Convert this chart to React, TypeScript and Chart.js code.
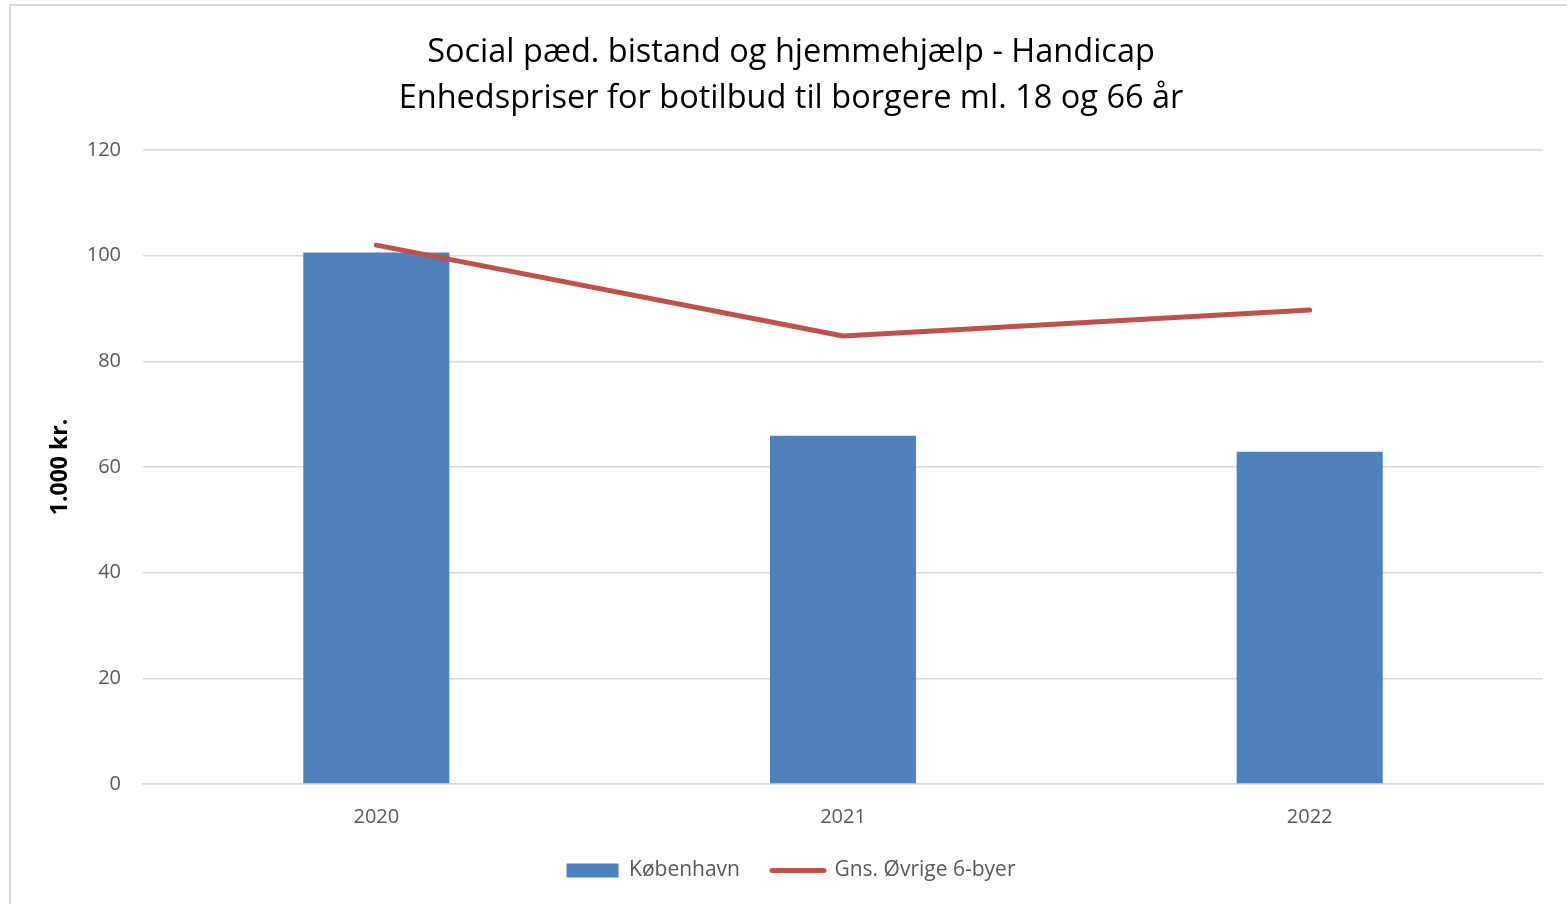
import React, { useEffect, useRef } from "react";
import { Chart, registerables } from "chart.js";

Chart.register(...registerables);

const years = ["2020", "2021", "2022"];
const kobenhavn = [100.6, 65.9, 62.9];
const ovrige = [102.0, 84.8, 89.7];
const titleLines = [
  "Social pæd. bistand og hjemmehjælp - Handicap",
  "Enhedspriser for botilbud til borgere ml. 18 og 66 år",
];
const yAxisTitle = "1.000 kr.";
const seriesNames = ["København", "Gns. Øvrige 6-byer"];

const FONT = "'Open Sans', sans-serif";

export default function App() {
  const ref = useRef<HTMLCanvasElement | null>(null);

  useEffect(() => {
    if (!ref.current) return;
    const chart = new Chart(ref.current, {
      type: "bar",
      data: {
        labels: years,
        datasets: [
          {
            type: "line",
            label: seriesNames[1],
            data: ovrige,
            borderColor: "#c0504d",
            backgroundColor: "#c0504d",
            borderWidth: 5,
            borderCapStyle: "round",
            borderJoinStyle: "round",
            pointRadius: 0,
            pointHoverRadius: 0,
            tension: 0,
            order: 0,
          } as any,
          {
            type: "bar",
            label: seriesNames[0],
            data: kobenhavn,
            backgroundColor: "#4f81bd",
            borderWidth: 0,
            categoryPercentage: 1,
            barPercentage: 0.313,
            order: 1,
          },
        ],
      },
      options: {
        responsive: false,
        animation: false,
        layout: { padding: { left: 39, right: 24, top: 0, bottom: 13 } },
        plugins: {
          title: {
            display: true,
            text: titleLines,
            color: "#000000",
            font: { family: FONT, size: 32.5, weight: "normal", lineHeight: 1.4 },
            padding: { top: 30, bottom: 29 },
          },
          legend: {
            position: "bottom",
            reverse: true,
            labels: {
              usePointStyle: true,
              pointStyleWidth: 52,
              boxHeight: 14,
              color: "#595959",
              padding: 32,
              font: { family: FONT, size: 21 },
              generateLabels: (c: any) => {
                const items = Chart.defaults.plugins.legend.labels.generateLabels(c);
                return items.map((it: any) => {
                  const ds = c.data.datasets[it.datasetIndex];
                  if (ds.type === "line") {
                    it.pointStyle = "line";
                    it.lineWidth = 5;
                    it.strokeStyle = "#c0504d";
                    it.lineCap = "round";
                  } else {
                    it.pointStyle = "rect";
                    it.lineWidth = 0;
                    it.fillStyle = "#4f81bd";
                  }
                  return it;
                });
              },
            },
          },
          tooltip: { enabled: false },
        },
        scales: {
          x: {
            grid: { display: false },
            border: { display: true, color: "#d9d9d9", width: 1.5 },
            ticks: { color: "#595959", font: { family: FONT, size: 20 }, padding: 13 },
            afterFit: (s: any) => {
              s.height = 44;
            },
          },
          y: {
            min: 0,
            max: 120,
            ticks: {
              stepSize: 20,
              color: "#595959",
              font: { family: FONT, size: 20 },
              padding: 22,
            },
            grid: { color: "#d9d9d9", lineWidth: 1.5, drawTicks: false },
            border: { display: false },
            title: {
              display: true,
              text: yAxisTitle,
              color: "#000000",
              font: { family: FONT, size: 23, weight: "bold" },
              padding: { top: 8, bottom: 0 },
            },
            afterFit: (s: any) => {
              s.width = 104;
            },
          },
        },
      },
    });
    return () => chart.destroy();
  }, []);

  return (
    <div
      style={{
        position: "fixed",
        left: 0,
        top: 0,
        width: 1567,
        height: 904,
        overflow: "hidden",
        background: "#ffffff",
      }}
    >
      <div
        style={{
          position: "absolute",
          left: 9,
          top: 4,
          width: 1700,
          height: 1100,
          border: "2px solid #d9d9d9",
          boxSizing: "border-box",
        }}
      />
      <canvas
        ref={ref}
        width={1567}
        height={904}
        style={{ position: "absolute", left: 0, top: 0, width: 1567, height: 904 }}
      />
    </div>
  );
}
